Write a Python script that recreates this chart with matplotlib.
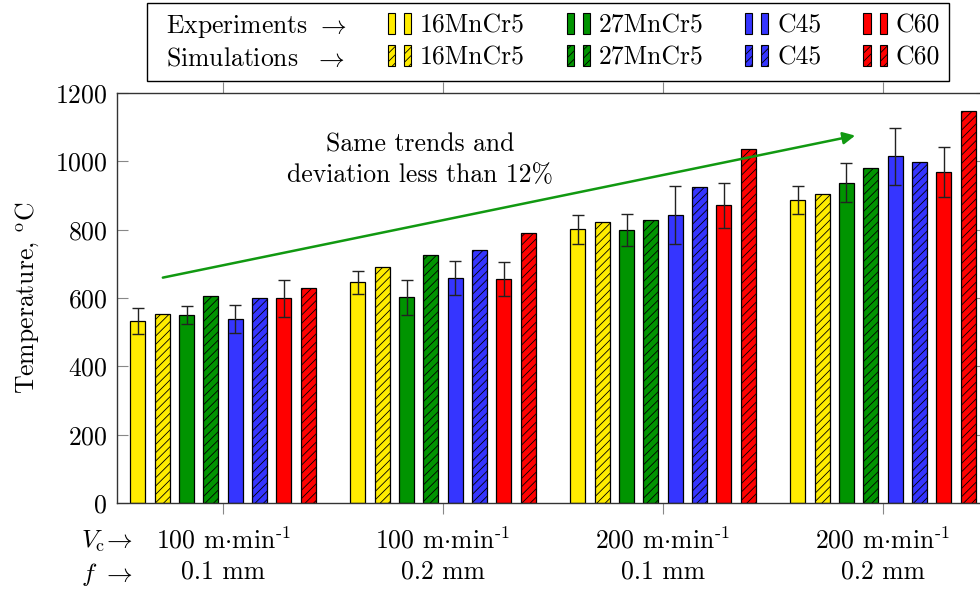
import numpy as np
import matplotlib
matplotlib.use("Agg")
import matplotlib.pyplot as plt
from matplotlib.patches import Patch
from matplotlib.legend_handler import HandlerTuple

# --- DATA ---
conditions = ["100 m$\\cdot$min$^{\\text{-1}}$\n0.1 mm",
              "100 m$\\cdot$min$^{\\text{-1}}$\n0.2 mm",
              "200 m$\\cdot$min$^{\\text{-1}}$\n0.1 mm",
              "200 m$\\cdot$min$^{\\text{-1}}$\n0.2 mm"]
materials = ["16MnCr5", "27MnCr5", "C45", "C60"]
colors = ["#FFEC00", "#009400", "#3535FF", "#FF0000"]

exp_16mncr5 = [533, 646, 801, 887]
exp_27mncr5 = [550, 602, 799, 938]
exp_c45 = [538, 659, 842, 1015]
exp_c60 = [599, 656, 871, 968]

err_16mncr5 = [38, 33, 42, 42]
err_27mncr5 = [27, 52, 46, 57]
err_c45 = [41, 49, 85, 83]
err_c60 = [55, 50, 65, 73]

sim_16mncr5 = [554, 690, 821, 904]
sim_27mncr5 = [606, 725, 829, 981]
sim_c45 = [600, 741, 924, 997]
sim_c60 = [630, 790, 1037, 1148]

exp_vals = [exp_16mncr5, exp_27mncr5, exp_c45, exp_c60]
exp_errs = [err_16mncr5, err_27mncr5, err_c45, err_c60]
sim_vals = [sim_16mncr5, sim_27mncr5, sim_c45, sim_c60]

# --- STYLE ---
FS = 18.5
plt.rcParams['font.family'] = ['cmr10', 'DejaVu Serif']
plt.rcParams['mathtext.fontset'] = 'cm'
plt.rcParams['axes.unicode_minus'] = False
plt.rcParams['axes.formatter.use_mathtext'] = True
plt.rcParams['font.size'] = FS
plt.rcParams['hatch.linewidth'] = 0.6

fig = plt.figure(figsize=(9.8, 5.94), dpi=100)
ax = fig.add_axes([117 / 980, 91 / 594, 870 / 980, 410 / 594])

x = np.arange(len(conditions))
step = 0.1105
width = 0.068

for i in range(4):
    xe = x + (2 * i - 3.5) * step
    xs = x + (2 * i + 1 - 3.5) * step
    ax.bar(xe, exp_vals[i], width, color=colors[i], edgecolor='black', linewidth=0.9, zorder=2)
    ax.errorbar(xe, exp_vals[i], yerr=exp_errs[i], fmt='none', ecolor='#222222',
                elinewidth=1.0, capsize=4.3, capthick=1.0, zorder=3)
    ax.bar(xs, sim_vals[i], width, color=colors[i], edgecolor='black', linewidth=0.9,
           hatch='////', zorder=2)

ax.set_xlim(-0.482, 3.473)
ax.set_ylim(0, 1200)
ax.set_yticks(np.arange(0, 1201, 200))
ax.set_xticks(x)
ax.set_xticklabels(conditions, linespacing=1.35)

ax.tick_params(axis='y', direction='in', left=True, right=True, length=8, width=0.8,
               color='#888888', pad=7, labelsize=FS)
ax.tick_params(axis='x', direction='out', bottom=True, top=True, length=8, width=0.8,
               color='#888888', pad=9, labelsize=FS)
for s in ax.spines.values():
    s.set_color('#333333')
    s.set_linewidth(1.0)

ax.set_ylabel('Temperature, $^{\\mathrm{o}}$C', fontsize=FS, labelpad=10)

# row labels for the two-line tick labels
fig.text(133 / 980, 1 - 541 / 594, '$V_{\\mathrm{c}}\\!\\rightarrow$', ha='right', va='center', fontsize=FS)
fig.text(133 / 980, 1 - 574 / 594, '$f$ $\\rightarrow$', ha='right', va='center', fontsize=FS)

# trend arrow and note
ax.annotate('', xy=(2.886, 1077), xytext=(-0.286, 658),
            arrowprops=dict(arrowstyle='-|>', color='#119911', lw=1.8, mutation_scale=18))
ax.text(0.895, 1004, 'Same trends and\ndeviation less than 12%', ha='center', va='center',
        fontsize=FS, linespacing=1.4)

# --- LEGEND ---
blank = Patch(color='none')
handles = [blank, blank]
labels = ['Experiments $\\rightarrow$', 'Simulations  $\\rightarrow$']
for i in range(4):
    pe = Patch(facecolor=colors[i], edgecolor='black', linewidth=0.8)
    ps = Patch(facecolor=colors[i], edgecolor='black', linewidth=0.8, hatch='////')
    handles += [(pe, pe), (ps, ps)]
    labels += [materials[i], materials[i]]

leg = fig.legend(handles, labels, ncol=5, loc='upper left', bbox_to_anchor=(147 / 980, 1 - 3 / 594),
                 handler_map={tuple: HandlerTuple(ndivide=None, pad=0.35)},
                 handlelength=0.9, handleheight=0.85, handletextpad=0.35, columnspacing=1.63,
                 labelspacing=0.3, borderpad=0.37, borderaxespad=0, fancybox=False, framealpha=1,
                 edgecolor='black', fontsize=FS)
leg.get_frame().set_linewidth(1.0)

# first legend column holds only the row captions: drop its empty handle space
first_col = leg._legend_handle_box.get_children()[0]
for item in first_col.get_children():
    item.get_children()[0].width = 0

plt.savefig('out.png', dpi=100)
